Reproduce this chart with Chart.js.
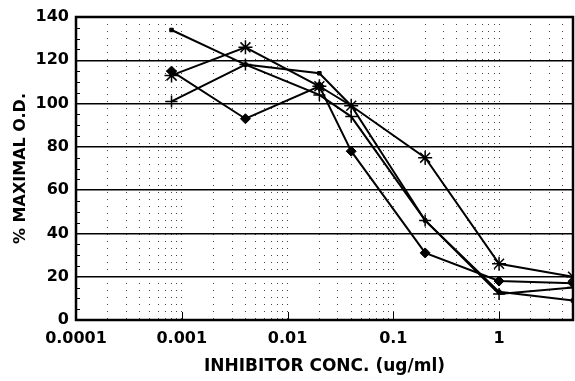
<!DOCTYPE html>
<html>
<head>
<meta charset="utf-8">
<script src="https://cdn.jsdelivr.net/npm/chart.js@4.4.1/dist/chart.umd.min.js"></script>
<style>
  html, body { margin: 0; padding: 0; background: #fff; }
  #wrap { width: 575px; height: 381px; }
</style>
</head>
<body>
<div id="wrap"><canvas id="odChart"></canvas></div>
<script>
// inhibitor concentration (ug/ml) for each well
const concentrations = [0.0008, 0.004, 0.02, 0.04, 0.2, 1, 5];

// % maximal O.D., one array per run
const runDot = [134, 118, 114, 99, 46, 13, 9];
const runPlus = [101, 118, 104, 94, 46, 12, 15];
const runDiamond = [115, 93, 108, 78, 31, 18, 17];
const runStar = [113, 126, 108, 99, 75, 26, 20];

// axis ticks
const xDecades = [0.0001, 0.001, 0.01, 0.1, 1];
const xDecadeLabels = ['0.0001', '0.001', '0.01', '0.1', '1'];
const yTicks = [0, 20, 40, 60, 80, 100, 120, 140];

const xMin = 0.0001, xMax = 5;
const yMin = 0, yMax = 140;

const FONT = "'DejaVu Sans', 'Liberation Sans', sans-serif";

// every 1..9 x 10^n value between the axis limits, for the dotted grid
function logGridValues() {
    const vals = [];
    for (let e = -4; e <= 0; e++) {
        for (let m = 1; m <= 9; m++) {
            const v = Number((m * Math.pow(10, e)).toPrecision(3));
            if (v >= xMin && v <= xMax) vals.push(v);
        }
    }
    return vals;
}

function toPoints(ys) {
    return concentrations.map((c, i) => ({ x: c, y: ys[i] }));
}

function run(data, style, radius, borderWidth) {
    return {
        data: toPoints(data),
        borderColor: '#000',
        backgroundColor: '#000',
        borderWidth: 2,
        pointStyle: style,
        pointRadius: radius,
        pointBorderWidth: borderWidth,
        pointBackgroundColor: '#000',
        pointBorderColor: '#000',
        tension: 0
    };
}

// heavy frame round the plot plus the small inside tick marks
const framePlugin = {
    id: 'frame',
    beforeDatasetsDraw(chart) {
        const { ctx, chartArea: a, scales } = chart;
        ctx.save();
        ctx.strokeStyle = '#000';
        ctx.lineWidth = 1;
        ctx.beginPath();
        for (let v = 5; v < yMax; v += 5) {
            if (v % 20 === 0) continue;
            const y = Math.round(scales.y.getPixelForValue(v)) + 0.5;
            ctx.moveTo(a.left, y);
            ctx.lineTo(a.left + 4, y);
        }
        xDecades.forEach(v => {
            const x = Math.round(scales.x.getPixelForValue(v)) + 0.5;
            ctx.moveTo(x, a.bottom);
            ctx.lineTo(x, a.bottom - 8);
        });
        ctx.stroke();
        ctx.lineWidth = 2.5;
        ctx.strokeRect(a.left, a.top, a.right - a.left, a.bottom - a.top);
        ctx.restore();
    }
};

const ctx = document.getElementById('odChart').getContext('2d');
new Chart(ctx, {
    type: 'line',
    data: {
        datasets: [
            run(runDot, 'rect', 2.5, 1),
            run(runPlus, 'cross', 6, 1.5),
            run(runDiamond, 'rectRot', 5, 1),
            run(runStar, 'star', 7, 1.5)
        ]
    },
    options: {
        responsive: true,
        maintainAspectRatio: false,
        animation: false,
        events: [],
        layout: { autoPadding: false, padding: { top: 17, right: 2, bottom: 2, left: 0 } },
        plugins: {
            legend: { display: false },
            tooltip: { enabled: false }
        },
        scales: {
            x: {
                type: 'logarithmic',
                min: xMin,
                max: xMax,
                afterBuildTicks(scale) {
                    scale.ticks = logGridValues().map(v => ({ value: v }));
                },
                afterFit(scale) {
                    scale.height = 59;
                    scale.paddingLeft = 0;
                    scale.paddingRight = 0;
                },
                ticks: {
                    autoSkip: false,
                    maxRotation: 0,
                    padding: 9,
                    color: '#000',
                    font: { family: FONT, size: 16, weight: 'bold' },
                    callback(value) {
                        const i = xDecades.findIndex(d => Math.abs(d - value) < d * 1e-6);
                        return i >= 0 ? xDecadeLabels[i] : '';
                    }
                },
                grid: {
                    color: '#444',
                    lineWidth: 1,
                    drawTicks: false
                },
                border: { display: false, dash: [1, 6] },
                title: {
                    display: true,
                    text: 'INHIBITOR CONC. (ug/ml)',
                    color: '#000',
                    font: { family: FONT, size: 17, weight: 'bold' },
                    padding: { top: 0, bottom: 2 }
                }
            },
            y: {
                min: yMin,
                max: yMax,
                afterBuildTicks(scale) {
                    scale.ticks = yTicks.map(v => ({ value: v }));
                },
                afterFit(scale) { scale.width = 76; },
                ticks: {
                    padding: 7,
                    color: '#000',
                    font: { family: FONT, size: 16, weight: 'bold' }
                },
                grid: {
                    color: '#000',
                    lineWidth: 1.5,
                    drawTicks: false
                },
                border: { display: false },
                title: {
                    display: true,
                    text: '% MAXIMAL O.D.',
                    color: '#000',
                    font: { family: FONT, size: 16, weight: 'bold' },
                    padding: { top: 11, bottom: 0 }
                }
            }
        }
    },
    plugins: [framePlugin]
});
</script>
</body>
</html>
